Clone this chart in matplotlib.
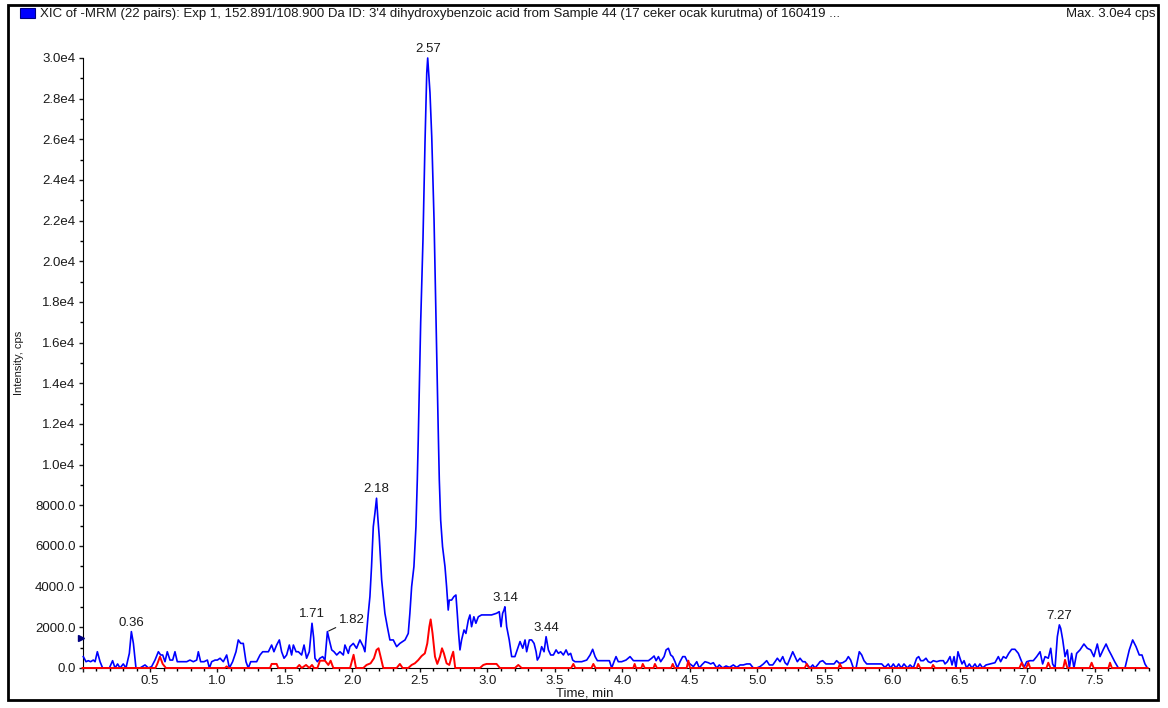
import numpy as np
import matplotlib
matplotlib.use('Agg')
import matplotlib.pyplot as plt
from matplotlib.patches import Rectangle
from matplotlib.ticker import MultipleLocator, FuncFormatter

plt.rcParams['font.family'] = ['Liberation Sans', 'DejaVu Sans']

# XIC trace (blue), time in min, intensity in cps
blue_time = [0.006, 0.026, 0.043, 0.060, 0.080, 0.093, 0.110, 0.130, 0.149, 0.174, 0.199, 0.223, 0.241, 0.260,
             0.278, 0.302, 0.322, 0.347, 0.362, 0.377, 0.396, 0.426, 0.463, 0.488, 0.512, 0.537, 0.562, 0.579,
             0.594, 0.611, 0.628, 0.648, 0.668, 0.685, 0.702, 0.722, 0.747, 0.772, 0.796, 0.821, 0.846, 0.858,
             0.875, 0.900, 0.925, 0.940, 0.957, 0.982, 0.999, 1.019, 1.043, 1.068, 1.088, 1.112, 1.137, 1.154,
             1.172, 1.191, 1.211, 1.228, 1.246, 1.265, 1.290, 1.315, 1.335, 1.359, 1.377, 1.401, 1.418, 1.438,
             1.458, 1.475, 1.493, 1.512, 1.532, 1.549, 1.562, 1.582, 1.599, 1.623, 1.641, 1.660, 1.680, 1.700,
             1.712, 1.722, 1.740, 1.759, 1.779, 1.796, 1.814, 1.828, 1.846, 1.863, 1.883, 1.907, 1.932, 1.944,
             1.969, 1.981, 2.006, 2.030, 2.055, 2.080, 2.092, 2.104, 2.117, 2.129, 2.141, 2.154, 2.166, 2.178,
             2.187, 2.198, 2.216, 2.228, 2.240, 2.258, 2.277, 2.302, 2.327, 2.351, 2.389, 2.413, 2.425, 2.438,
             2.455, 2.470, 2.480, 2.487, 2.505, 2.522, 2.537, 2.550, 2.557, 2.574, 2.587, 2.604, 2.616, 2.628,
             2.635, 2.643, 2.653, 2.667, 2.685, 2.697, 2.709, 2.717, 2.734, 2.751, 2.766, 2.776, 2.786, 2.796,
             2.808, 2.826, 2.840, 2.858, 2.870, 2.882, 2.899, 2.914, 2.932, 2.956, 2.993, 3.030, 3.067, 3.087,
             3.100, 3.112, 3.122, 3.129, 3.142, 3.161, 3.179, 3.203, 3.228, 3.241, 3.261, 3.278, 3.290, 3.310,
             3.327, 3.345, 3.360, 3.369, 3.384, 3.401, 3.419, 3.434, 3.451, 3.468, 3.488, 3.508, 3.525, 3.542,
             3.562, 3.582, 3.599, 3.616, 3.631, 3.648, 3.673, 3.698, 3.735, 3.760, 3.779, 3.797, 3.814, 3.846,
             3.878, 3.903, 3.920, 3.937, 3.952, 3.969, 3.994, 4.026, 4.056, 4.081, 4.117, 4.159, 4.192, 4.216,
             4.234, 4.249, 4.266, 4.283, 4.308, 4.323, 4.340, 4.357, 4.372, 4.389, 4.406, 4.426, 4.446, 4.463,
             4.481, 4.500, 4.525, 4.550, 4.569, 4.587, 4.611, 4.636, 4.653, 4.673, 4.698, 4.717, 4.742, 4.767,
             4.792, 4.821, 4.846, 4.871, 4.895, 4.920, 4.945, 4.969, 4.994, 5.019, 5.044, 5.068, 5.088, 5.113,
             5.130, 5.147, 5.167, 5.187, 5.204, 5.221, 5.241, 5.261, 5.278, 5.295, 5.315, 5.335, 5.352, 5.370,
             5.389, 5.409, 5.426, 5.451, 5.463, 5.483, 5.507, 5.537, 5.567, 5.586, 5.606, 5.631, 5.655, 5.673,
             5.690, 5.710, 5.730, 5.754, 5.772, 5.789, 5.809, 5.846, 5.883, 5.920, 5.944, 5.969, 5.986, 6.006,
             6.026, 6.046, 6.065, 6.085, 6.110, 6.130, 6.154, 6.179, 6.194, 6.209, 6.228, 6.248, 6.265, 6.283,
             6.302, 6.327, 6.352, 6.377, 6.389, 6.406, 6.426, 6.441, 6.456, 6.470, 6.485, 6.500, 6.515, 6.530,
             6.549, 6.569, 6.589, 6.611, 6.628, 6.648, 6.668, 6.693, 6.722, 6.759, 6.784, 6.801, 6.821, 6.841,
             6.861, 6.883, 6.907, 6.932, 6.957, 6.974, 6.994, 7.019, 7.043, 7.068, 7.093, 7.112, 7.130, 7.154,
             7.172, 7.186, 7.204, 7.221, 7.236, 7.246, 7.261, 7.278, 7.295, 7.310, 7.327, 7.344, 7.364, 7.389,
             7.418, 7.443, 7.468, 7.492, 7.517, 7.537, 7.562, 7.582, 7.601, 7.621, 7.646, 7.673, 7.698, 7.722,
             7.754, 7.779, 7.804, 7.828, 7.848, 7.870, 7.888]
blue_cps = [560, 310, 360, 310, 390, 310, 800, 310, 0, 0, 0, 360, 0, 200,
            0, 200, 0, 720, 1790, 1210, 0, 0, 150, 0, 70, 390, 800, 640,
            640, 310, 800, 390, 390, 800, 310, 310, 310, 310, 390, 310, 390, 800,
            310, 310, 390, 0, 310, 390, 390, 480, 310, 640, 0, 310, 800, 1380,
            1210, 1210, 310, 0, 310, 310, 310, 640, 800, 800, 800, 1130, 800, 1130,
            1380, 800, 480, 640, 1130, 640, 1130, 800, 800, 640, 1130, 480, 800, 2200,
            1500, 480, 310, 480, 560, 390, 1790, 1380, 890, 800, 640, 800, 640, 1130,
            720, 1050, 1210, 970, 1380, 1050, 800, 1700, 2690, 3510, 4990, 6950, 7610, 8350,
            7450, 6460, 4330, 3510, 2690, 2030, 1380, 1380, 1050, 1210, 1380, 1700, 2690, 4000,
            4990, 6950, 9250, 11220, 17000, 21060, 25830, 29270, 30000, 28290, 26120, 22040, 18000, 14170,
            11710, 9250, 7280, 5970, 4990, 4000, 2850, 3340, 3340, 3510, 3590, 2690, 1700, 890,
            1380, 1870, 1700, 2360, 2610, 2030, 2520, 2200, 2520, 2610, 2610, 2610, 2690, 2770,
            2030, 2690, 2850, 3010, 2030, 1380, 560, 560, 1050, 1300, 970, 1380, 800, 1380,
            1380, 1210, 800, 390, 560, 1050, 800, 1540, 890, 640, 640, 890, 720, 800,
            640, 890, 640, 720, 390, 310, 310, 310, 390, 640, 920, 560, 360, 360,
            360, 360, 0, 310, 560, 310, 310, 390, 560, 360, 360, 360, 360, 480,
            590, 360, 560, 310, 560, 890, 970, 640, 560, 310, 0, 310, 560, 560,
            310, 200, 70, 310, 0, 150, 310, 260, 200, 260, 0, 150, 0, 100,
            30, 150, 30, 150, 150, 200, 200, 0, 0, 70, 200, 360, 150, 150,
            310, 480, 310, 560, 260, 150, 480, 800, 560, 310, 480, 310, 310, 150,
            0, 150, 0, 200, 310, 360, 200, 200, 200, 360, 230, 260, 360, 560,
            390, 0, 0, 800, 640, 360, 200, 200, 200, 200, 30, 200, 0, 200,
            0, 200, 0, 200, 0, 150, 0, 480, 560, 360, 360, 480, 310, 260,
            360, 310, 360, 360, 200, 310, 560, 150, 560, 0, 800, 480, 200, 360,
            0, 200, 0, 200, 0, 200, 0, 150, 200, 260, 560, 310, 560, 480,
            720, 920, 920, 720, 310, 30, 310, 360, 360, 560, 800, 200, 560, 480,
            970, 200, 0, 1540, 2120, 1950, 1380, 560, 890, 0, 720, 0, 720, 890,
            1180, 970, 890, 560, 1180, 560, 920, 1180, 890, 640, 310, 0, 0, 0,
            890, 1380, 1050, 640, 640, 200, 0]

# second trace (red)
red_time = [0.0, 0.540, 0.554, 0.574, 0.594, 0.618, 1.055, 1.068, 1.080, 1.389, 1.401, 1.438, 1.450, 1.586,
            1.606, 1.624, 1.656, 1.680, 1.700, 1.715, 1.740, 1.759, 1.796, 1.821, 1.838, 1.858, 1.982, 2.008,
            2.026, 2.080, 2.104, 2.134, 2.159, 2.178, 2.193, 2.208, 2.228, 2.327, 2.351, 2.371, 2.413, 2.438,
            2.462, 2.487, 2.512, 2.536, 2.554, 2.569, 2.579, 2.593, 2.611, 2.628, 2.648, 2.663, 2.677, 2.697,
            2.717, 2.734, 2.746, 2.761, 2.944, 2.969, 2.993, 3.067, 3.092, 3.203, 3.228, 3.253, 3.620, 3.636,
            3.650, 3.770, 3.784, 3.800, 4.080, 4.090, 4.100, 4.140, 4.150, 4.165, 4.230, 4.240, 4.255, 4.360,
            4.372, 4.385, 4.475, 4.488, 4.500, 5.350, 5.365, 5.380, 5.600, 5.610, 5.625, 6.180, 6.190, 6.205,
            6.290, 6.300, 6.315, 6.940, 6.957, 6.975, 6.990, 7.006, 7.020, 7.140, 7.154, 7.170, 7.265, 7.278,
            7.295, 7.460, 7.475, 7.490, 7.600, 7.611, 7.625, 7.890]
red_cps = [0, 0, 200, 560, 200, 0, 0, 80, 0, 0, 200, 200, 0, 0,
           150, 0, 150, 0, 150, 0, 0, 360, 360, 150, 360, 0, 0, 650,
           0, 0, 150, 230, 480, 890, 970, 560, 0, 0, 200, 0, 0, 150,
           230, 390, 590, 720, 1210, 2030, 2390, 1700, 560, 200, 560, 970, 720, 230,
           150, 560, 800, 0, 0, 150, 200, 200, 0, 0, 150, 0, 0, 200,
           0, 0, 200, 0, 0, 200, 0, 0, 200, 0, 0, 200, 0, 0,
           200, 0, 0, 360, 0, 0, 200, 0, 0, 200, 0, 0, 200, 0,
           0, 150, 0, 0, 260, 0, 0, 260, 0, 0, 260, 0, 0, 400,
           0, 0, 260, 0, 0, 260, 0, 0]

peak_labels = ['0.36', '1.71', '1.82', '2.18', '2.57', '3.14', '3.44', '7.27']
peak_times = [0.362, 1.700, 1.814, 2.178, 2.557, 3.129, 3.434, 7.236]

title = ("XIC of -MRM (22 pairs): Exp 1, 152.891/108.900 Da ID: 3'4 dihydroxybenzoic acid "
         "from Sample 44 (17 ceker ocak kurutma) of 160419 ...")

txt = '#1a1a1a'
fs = 9.5

fig = plt.figure(figsize=(11.68, 7.08), dpi=100)
ax = fig.add_axes([82.5 / 1168, 40 / 708, 1066.5 / 1168, 610 / 708])

ax.plot(blue_time, blue_cps, color='#0000ff', lw=1.2, clip_on=False, zorder=3)
ax.plot(red_time, red_cps, color='#ff0000', lw=1.4, clip_on=False, zorder=4)

bt = np.array(blue_time)
bc = np.array(blue_cps)
for lab, t in zip(peak_labels, peak_times):
    top = bc[np.argmin(np.abs(bt - t))]
    if lab == '1.82':
        ax.annotate(lab, xy=(t, top), xytext=(8, 4), textcoords='offset points',
                    ha='left', va='bottom', fontsize=fs, color=txt,
                    arrowprops=dict(arrowstyle='-', color=txt, lw=0.8,
                                    shrinkA=0, shrinkB=1))
    else:
        ax.annotate(lab, xy=(t, top), xytext=(0, 2), textcoords='offset points',
                    ha='center', va='bottom', fontsize=fs, color=txt)

# small marker on the y axis
ax.plot(-0.01, 1500, marker='>', color='#000080', ms=5, clip_on=False, zorder=5)

ax.set_xlim(0, 7.9)
ax.set_ylim(0, 30000)
ax.spines['top'].set_visible(False)
ax.spines['right'].set_visible(False)

ax.xaxis.set_major_locator(MultipleLocator(0.5))
ax.xaxis.set_minor_locator(MultipleLocator(0.1))
ax.yaxis.set_major_locator(MultipleLocator(2000))
ax.yaxis.set_minor_locator(MultipleLocator(1000))


def yfmt(v, pos):
    if v >= 10000:
        return f'{v / 1e4:.1f}e4'
    return f'{v:.1f}'


ax.yaxis.set_major_formatter(FuncFormatter(yfmt))
ax.xaxis.set_major_formatter(FuncFormatter(lambda v, p: '' if v < 0.1 else f'{v:.1f}'))
ax.tick_params(axis='both', which='major', length=3, width=1, labelsize=fs, colors=txt, pad=2)
ax.tick_params(axis='both', which='minor', length=2, width=1)

ax.set_xlabel('Time, min', fontsize=fs, color=txt)
ax.xaxis.set_label_coords((585 - 82.5) / 1066.5, -0.032)
ax.set_ylabel('Intensity, cps', fontsize=8, color=txt)
ax.yaxis.set_label_coords(-0.055, 0.5)

# outer frame and header
fig.patches.append(Rectangle((8 / 1168, 8 / 708), 1150 / 1168, 695 / 708, transform=fig.transFigure,
                             fill=False, edgecolor='black', lw=2))
fig.patches.append(Rectangle((20 / 1168, (708 - 18) / 708), 15 / 1168, 10 / 708, transform=fig.transFigure,
                             facecolor='#0000ff', edgecolor='#000080', lw=0.8))
fig.text(40 / 1168, 1 - 14 / 708, title, fontsize=fs, va='center', ha='left', color=txt)
fig.text(1155 / 1168, 1 - 14 / 708, 'Max. 3.0e4 cps', fontsize=fs, va='center', ha='right', color=txt)

fig.savefig('out.png', dpi=100)
